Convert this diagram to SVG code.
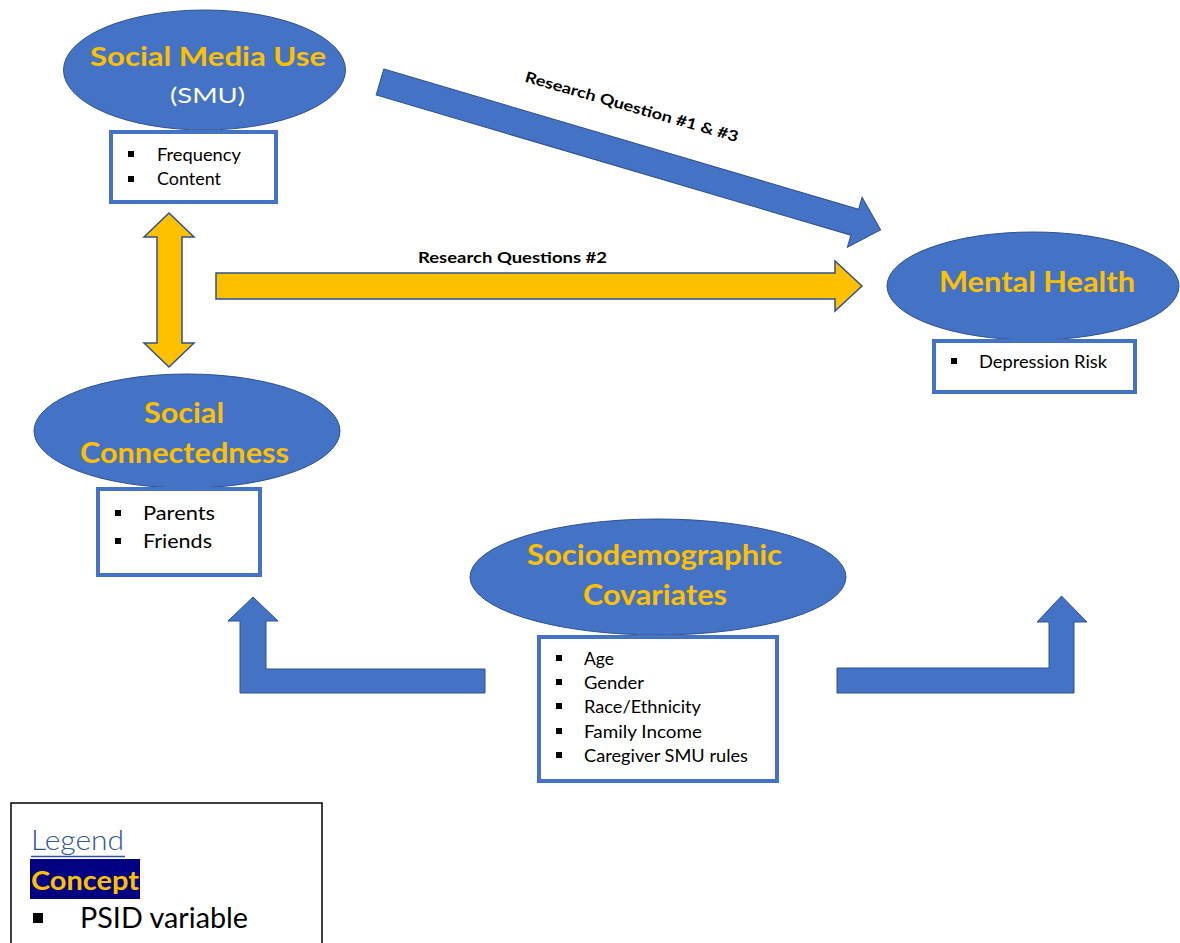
<svg xmlns="http://www.w3.org/2000/svg" width="1180" height="943" viewBox="0 0 1180 943">
  <style>
    .concept { fill: #4472C4; stroke: #2F528F; stroke-width: 1; }
    .title { font-family: Lato, "Open Sans", sans-serif; font-weight: bold; fill: #FFC000; text-anchor: start; }
    .vars { fill: #FFFFFF; stroke: #4472C4; stroke-width: 4; }
    .item { font-family: Lato, "Open Sans", sans-serif; fill: #000000; }
    .bullet { fill: #000000; }
    .blue-arrow { fill: #4472C4; stroke: #2F528F; stroke-width: 1; }
    .gold-arrow { fill: #FFC000; stroke: #2F528F; stroke-width: 1.5; }
    .label { font-family: Lato, "Open Sans", sans-serif; font-weight: bold; fill: #000000; }
  </style>

  <rect width="1180" height="943" fill="#FFFFFF"/>

  <!-- connectors -->
  <g id="connectors">
    <!-- SMU to Mental Health (RQ 1 & 3) -->
    <polygon class="blue-arrow" transform="translate(380,82) rotate(16.46)"
             points="0,-13.5 495,-13.5 495,-26 522,0 495,26 495,13.5 0,13.5"/>
    <text class="label" font-size="15" transform="translate(524,81.5) rotate(15.9)" textLength="221" lengthAdjust="spacingAndGlyphs">Research Question #1 &amp; #3</text>

    <!-- Social connectedness to Mental Health (RQ 2) -->
    <polygon class="gold-arrow" points="216,273 835,273 835,261 862,286 835,311 835,299 216,299"/>
    <text class="label" font-size="16" x="418" y="263" textLength="189" lengthAdjust="spacingAndGlyphs">Research Questions #2</text>

    <!-- SMU <-> Social connectedness -->
    <polygon class="gold-arrow" points="169,213 194,237 182,237 182,343 194,343 169,367 144,343 157,343 157,237 144,237"/>

    <!-- covariates to Social connectedness -->
    <polygon class="blue-arrow" points="485,669 266,669 266,621 278,621 253,597 228,621 240,621 240,693 485,693"/>

    <!-- covariates to Mental Health -->
    <polygon class="blue-arrow" points="837,668 1049,668 1049,622 1037,622 1061.5,596 1087,622 1074,622 1074,693 837,693"/>
  </g>

  <!-- Social Media Use -->
  <g id="node-smu">
    <ellipse class="concept" cx="204.5" cy="70" rx="141" ry="60"/>
    <text class="title" font-size="26.5" x="90" y="66" textLength="236" lengthAdjust="spacingAndGlyphs">Social Media Use</text>
    <text font-family="Lato, 'Open Sans', sans-serif" font-size="22" fill="#FFFFFF" x="170" y="103" textLength="75" lengthAdjust="spacingAndGlyphs">(SMU)</text>
    <rect class="vars" x="111" y="132" width="165" height="70"/>
    <rect class="bullet" x="128" y="151" width="6" height="6"/>
    <text class="item" font-size="17" x="157" y="161" textLength="84" lengthAdjust="spacingAndGlyphs">Frequency</text>
    <rect class="bullet" x="128" y="176" width="6" height="6"/>
    <text class="item" font-size="17" x="157" y="185" textLength="64" lengthAdjust="spacingAndGlyphs">Content</text>
  </g>

  <!-- Mental Health -->
  <g id="node-mental-health">
    <ellipse class="concept" cx="1033" cy="286" rx="146" ry="54"/>
    <text class="title" font-size="28" x="939" y="292" textLength="196" lengthAdjust="spacingAndGlyphs">Mental Health</text>
    <rect class="vars" x="934" y="341" width="201" height="51"/>
    <rect class="bullet" x="951" y="358" width="6" height="6"/>
    <text class="item" font-size="17" x="979" y="368" textLength="128" lengthAdjust="spacingAndGlyphs">Depression Risk</text>
  </g>

  <!-- Social Connectedness -->
  <g id="node-social-connectedness">
    <ellipse class="concept" cx="187" cy="431" rx="153" ry="57"/>
    <text class="title" font-size="28" x="144" y="423" textLength="80" lengthAdjust="spacingAndGlyphs">Social</text>
    <text class="title" font-size="28" x="80" y="463" textLength="209" lengthAdjust="spacingAndGlyphs">Connectedness</text>
    <rect class="vars" x="98" y="489" width="162" height="86"/>
    <rect class="bullet" x="115" y="510" width="6" height="6"/>
    <text class="item" font-size="19" x="143" y="520" textLength="72" lengthAdjust="spacingAndGlyphs">Parents</text>
    <rect class="bullet" x="115" y="538" width="6" height="6"/>
    <text class="item" font-size="19" x="143" y="548" textLength="69" lengthAdjust="spacingAndGlyphs">Friends</text>
  </g>

  <!-- Sociodemographic Covariates -->
  <g id="node-covariates">
    <ellipse class="concept" cx="658" cy="577" rx="188" ry="58"/>
    <text class="title" font-size="28" x="527" y="565" textLength="255" lengthAdjust="spacingAndGlyphs">Sociodemographic</text>
    <text class="title" font-size="28" x="583" y="605" textLength="144" lengthAdjust="spacingAndGlyphs">Covariates</text>
    <rect class="vars" x="539" y="637" width="238" height="144"/>
    <rect class="bullet" x="556" y="655" width="6" height="6"/>
    <text class="item" font-size="17.5" x="584" y="665" textLength="30" lengthAdjust="spacingAndGlyphs">Age</text>
    <rect class="bullet" x="556" y="679" width="6" height="6"/>
    <text class="item" font-size="17.5" x="584" y="689" textLength="60" lengthAdjust="spacingAndGlyphs">Gender</text>
    <rect class="bullet" x="556" y="703" width="6" height="6"/>
    <text class="item" font-size="17.5" x="584" y="713" textLength="117" lengthAdjust="spacingAndGlyphs">Race/Ethnicity</text>
    <rect class="bullet" x="556" y="728" width="6" height="6"/>
    <text class="item" font-size="17.5" x="584" y="738" textLength="118" lengthAdjust="spacingAndGlyphs">Family Income</text>
    <rect class="bullet" x="556" y="752" width="6" height="6"/>
    <text class="item" font-size="17.5" x="584" y="762" textLength="164" lengthAdjust="spacingAndGlyphs">Caregiver SMU rules</text>
  </g>

  <!-- Legend -->
  <g id="legend">
    <rect x="11" y="803" width="311" height="150" fill="#FFFFFF" stroke="#000000" stroke-width="1.5"/>
    <text font-family="Lato, 'Open Sans', sans-serif" font-weight="300" font-size="27" fill="#2F5496" x="31" y="850" textLength="93" lengthAdjust="spacingAndGlyphs">Legend</text>
    <line x1="31" y1="856.5" x2="125" y2="856.5" stroke="#2F5496" stroke-width="1.5"/>
    <rect x="30" y="859" width="110" height="40" fill="#000080"/>
    <text class="title" font-size="27" x="31" y="890" textLength="108" lengthAdjust="spacingAndGlyphs">Concept</text>
    <rect class="bullet" x="33" y="913" width="10" height="10"/>
    <text class="item" font-size="29" x="80" y="928" textLength="168" lengthAdjust="spacingAndGlyphs">PSID variable</text>
  </g>
</svg>
